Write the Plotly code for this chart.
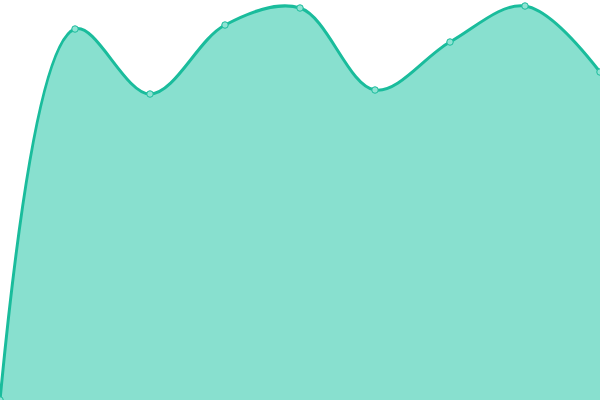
import plotly.graph_objects as go

x_vals = [0, 75, 150, 225, 300, 375, 450, 525, 600]
y_vals = [0, 371, 306, 375, 392, 310, 358, 394, 328]

fig = go.Figure()
fig.add_trace(go.Scatter(
    x=x_vals, y=y_vals,
    mode="lines+markers",
    line=dict(color="#1abc9c", width=3, shape="spline", smoothing=1),
    marker=dict(size=6.5, color="#8fe3d3", line=dict(color="#1abc9c", width=1)),
    fill="tozeroy",
    fillcolor="#88e0cf",
    hoverinfo="skip",
    cliponaxis=False,
))
fig.update_layout(
    width=600, height=400,
    margin=dict(l=0, r=0, t=0, b=0),
    paper_bgcolor="white", plot_bgcolor="white",
    showlegend=False,
    xaxis=dict(range=[0, 600], visible=False, fixedrange=True),
    yaxis=dict(range=[0, 400], visible=False, fixedrange=True),
)
fig.write_html(
    "out.html",
    config={"displayModeBar": False},
    post_script="document.body.style.margin='0';document.body.style.overflow='hidden';",
)
